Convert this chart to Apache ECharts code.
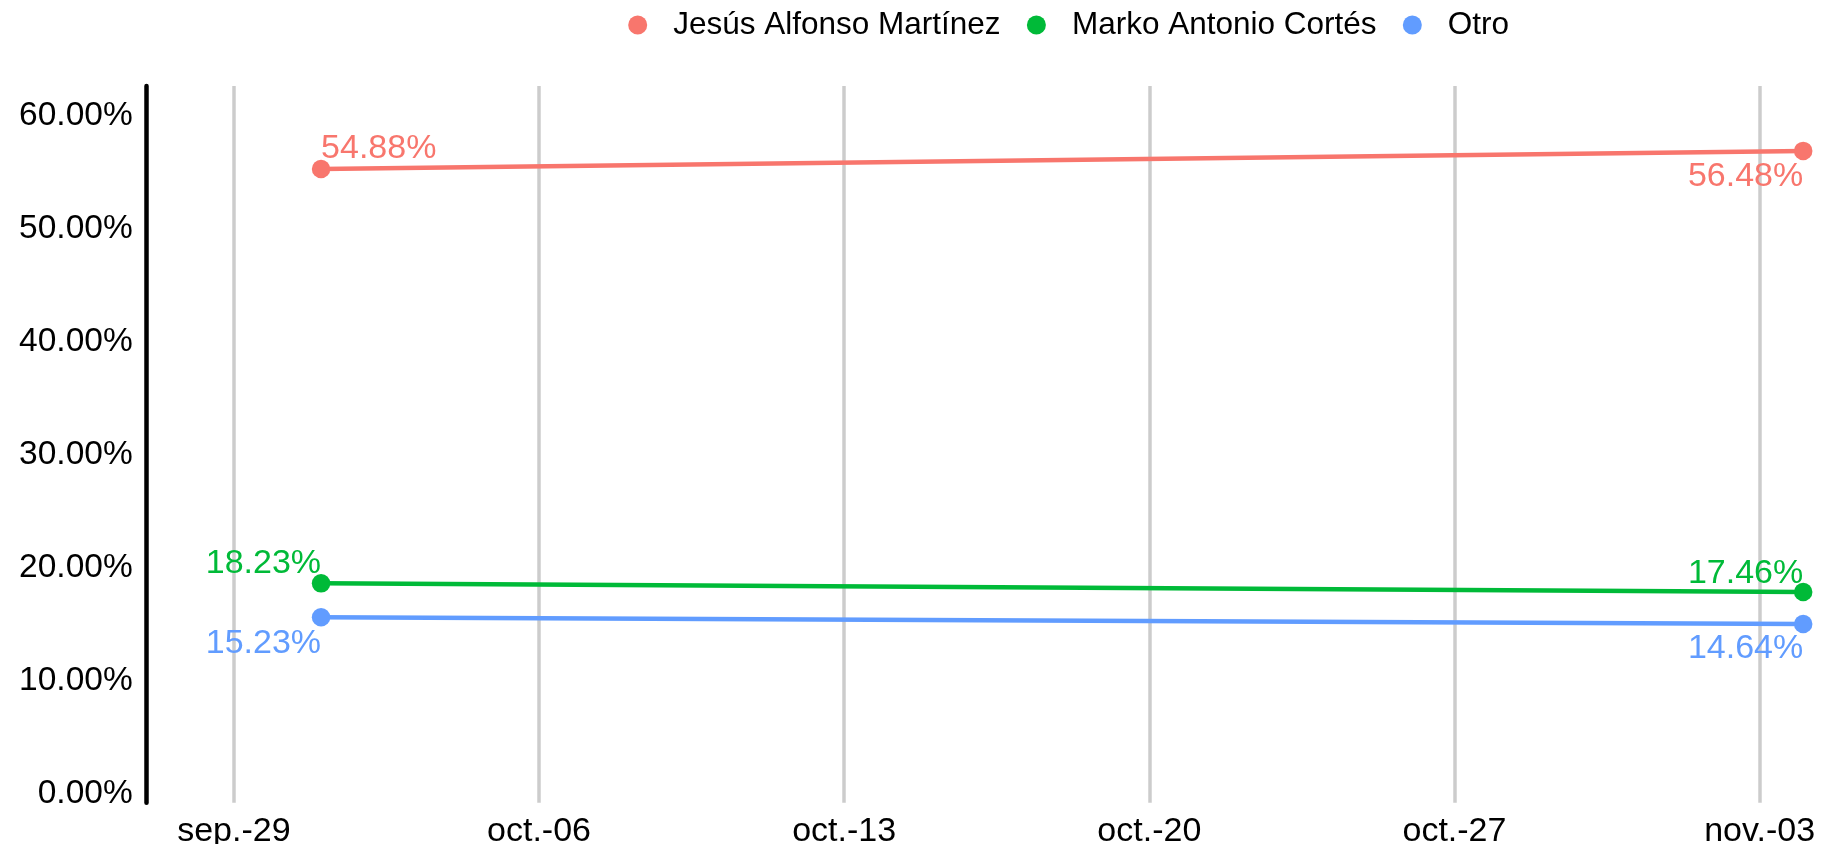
<!DOCTYPE html>
<html>
<head>
<meta charset="utf-8">
<script src="https://cdn.jsdelivr.net/npm/echarts@6/dist/echarts.min.js"></script>
<style>
  html, body { margin: 0; padding: 0; background: #ffffff; }
  #chart { width: 1821px; height: 844px; }
</style>
</head>
<body>
<div id="chart"></div>
<script>
// ---- data ----
const seriesNames = ['Jesús Alfonso Martínez', 'Marko Antonio Cortés', 'Otro'];
const pointDates = ['2025-10-01', '2025-11-04'];
const jesusValues = [54.88, 56.48];
const markoValues = [18.23, 17.46];
const otroValues = [15.23, 14.64];
const xTickDates = ['2025-09-29', '2025-10-06', '2025-10-13', '2025-10-20', '2025-10-27', '2025-11-03'];
const yTickValues = [0, 10, 20, 30, 40, 50, 60];
const monthAbbr = ['ene.', 'feb.', 'mar.', 'abr.', 'may.', 'jun.', 'jul.', 'ago.', 'sep.', 'oct.', 'nov.', 'dic.'];
const xRange = ['2025-09-27', '2025-11-04'];
const xRangeExtraHours = [0, 9.8];
const yRange = [-1.17, 62.22];

// ---- helpers ----
function toTime(s, h) {
  const p = s.split('-').map(Number);
  return new Date(p[0], p[1] - 1, p[2]).getTime() + (h || 0) * 3600e3;
}
function fmtDate(v) {
  const d = new Date(v);
  const dd = String(d.getDate()).padStart(2, '0');
  return monthAbbr[d.getMonth()] + '-' + dd;
}

const colors = ['#F8766D', '#00BA38', '#619CFF'];
const values = [jesusValues, markoValues, otroValues];
// label placement per series: [first point, last point]
const labelPlace = [
  [{ align: 'left', dy: -20.8 }, { align: 'right', dy: 25.4 }],
  [{ align: 'right', dy: -20 }, { align: 'right', dy: -18.8 }],
  [{ align: 'right', dy: 26 }, { align: 'right', dy: 24.7 }]
];
const FONT = '"Liberation Sans", Arial, sans-serif';

const series = seriesNames.map((name, si) => ({
  name: name,
  type: 'line',
  symbol: 'circle',
  symbolSize: 18.5,
  showSymbol: true,
  animation: false,
  lineStyle: { color: colors[si], width: 4.5 },
  itemStyle: { color: colors[si] },
  data: pointDates.map((d, i) => ({
    value: [toTime(d), values[si][i]],
    label: {
      show: true,
      position: ['50%', '50%'],
      offset: [0, labelPlace[si][i].dy],
      align: labelPlace[si][i].align,
      verticalAlign: 'middle',
      color: colors[si],
      fontSize: 34,
      lineHeight: 34,
      fontFamily: FONT,
      formatter: (p) => p.value[1].toFixed(2) + '%'
    }
  })),
  emphasis: { disabled: true }
}));

const chart = echarts.init(document.getElementById('chart'), null, { renderer: 'canvas' });
chart.setOption({
  backgroundColor: '#ffffff',
  animation: false,
  legend: {
    data: seriesNames.map((n, i) => ({ name: n, icon: 'circle', itemStyle: { color: colors[i] } })),
    left: 628.2,
    top: 9,
    padding: 0,
    itemWidth: 61,
    itemHeight: 19,
    itemGap: 26.3,
    selectedMode: false,
    textStyle: { fontSize: 31.5, lineHeight: 32, color: '#000000', fontFamily: FONT }
  },
  grid: {
    left: 146.7,
    top: 86,
    right: 0,
    bottom: 41.3,
    containLabel: false,
    outerBoundsMode: 'none'
  },
  xAxis: {
    type: 'value',
    min: toTime(xRange[0], xRangeExtraHours[0]),
    max: toTime(xRange[1], xRangeExtraHours[1]),
    axisLine: { show: false, onZero: false },
    axisTick: { show: false, customValues: xTickDates.map(d => toTime(d)) },
    axisLabel: {
      customValues: xTickDates.map(d => toTime(d)),
      formatter: fmtDate,
      fontSize: 34,
      lineHeight: 34,
      color: '#000000',
      fontFamily: FONT,
      margin: 12.3,
      hideOverlap: false
    },
    splitLine: { show: true, lineStyle: { color: '#cccccc', width: 3.5 } }
  },
  yAxis: {
    type: 'value',
    min: yRange[0],
    max: yRange[1],
    axisLine: { show: true, onZero: false, lineStyle: { color: '#000000', width: 4.5 } },
    axisTick: { show: false, customValues: yTickValues },
    axisLabel: {
      customValues: yTickValues,
      formatter: (v) => v.toFixed(2) + '%',
      fontSize: 33.5,
      lineHeight: 9,
      verticalAlign: 'top',
      color: '#000000',
      fontFamily: FONT,
      margin: 14
    },
    splitLine: { show: false }
  },
  series: series
});
</script>
</body>
</html>
